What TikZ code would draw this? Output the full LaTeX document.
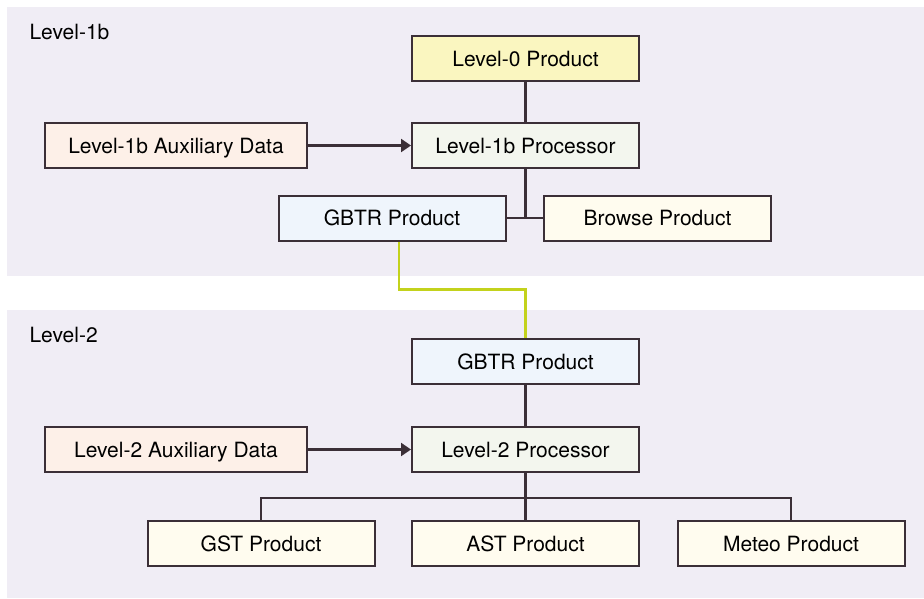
\documentclass[tikz,border=0pt]{standalone}
\usepackage{fontspec}
\setmainfont{TeX Gyre Heros}
\usetikzlibrary{arrows.meta}

\definecolor{panelbg}{HTML}{F0EDF5}
\definecolor{edgecol}{HTML}{3B2F37}
\definecolor{zerofill}{HTML}{FAF6C0}
\definecolor{procfill}{HTML}{F3F6EE}
\definecolor{auxfill}{HTML}{FDF0E8}
\definecolor{gbtrfill}{HTML}{EFF5FC}
\definecolor{prodfill}{HTML}{FFFCEF}
\definecolor{linkgreen}{HTML}{C3D21C}

\begin{document}
\begin{tikzpicture}[x=1pt,y=-1pt,
  font=\fontsize{21}{25}\selectfont,
  box/.style={draw=edgecol, line width=2pt, minimum width=227pt, minimum height=45pt, inner sep=0pt, text height=15pt, text depth=0pt},
  auxbox/.style={box, minimum width=262pt, fill=auxfill},
  link/.style={draw=edgecol, line width=2.2pt}]

\useasboundingbox (0,0) rectangle (924,598);
\fill[white] (0,0) rectangle (924,598);

% the two stages
\fill[panelbg] (7,7) rectangle (924,276);
\fill[panelbg] (7,310) rectangle (924,598);
\path (26,39) node (stageA) [anchor=base west] {Level-1b};
\path (26,342) node (stageB) [anchor=base west] {Level-2};

\path (525.5,58.5) node (L0) [box, fill=zerofill] {Level-0 Product};
\path (525.5,145.5) node (P1) [box, fill=procfill] {Level-1b Processor};
\path (176,145.5) node (A1) [auxbox] {Level-1b Auxiliary Data};
\path (392,218) node (G1) [box, fill=gbtrfill] {GBTR Product};
\path (657.5,218) node (B1) [box, fill=prodfill] {Browse Product};

\draw [link] (L0) -- (P1);
\draw [link, -{Triangle[length=10pt,width=13pt]}] (A1) -- (P1);
\draw [link] (P1.south) |- (G1.east);
\draw [link] (P1.south) |- (B1.west);

\path (525.5,361.5) node (G2) [box, fill=gbtrfill] {GBTR Product};
\path (525.5,449.5) node (P2) [box, fill=procfill] {Level-2 Processor};
\path (176,449.5) node (A2) [auxbox] {Level-2 Auxiliary Data};
\path (261,543.5) node (GST) [box, fill=prodfill] {GST Product};
\path (525.5,543.5) node (AST) [box, fill=prodfill] {AST Product};
\path (791,543.5) node (MET) [box, fill=prodfill] {Meteo Product};

\draw [link, draw=linkgreen] ([xshift=7pt]G1.south) -- ++(0,48) -| (G2.north);

\draw [link] (G2) -- (P2);
\draw [link, -{Triangle[length=10pt,width=13pt]}] (A2) -- (P2);
\draw [link] (P2) -- (AST);
\draw [link] (GST.north) -- ++(0,-22) -| (MET.north);

\end{tikzpicture}
\end{document}
